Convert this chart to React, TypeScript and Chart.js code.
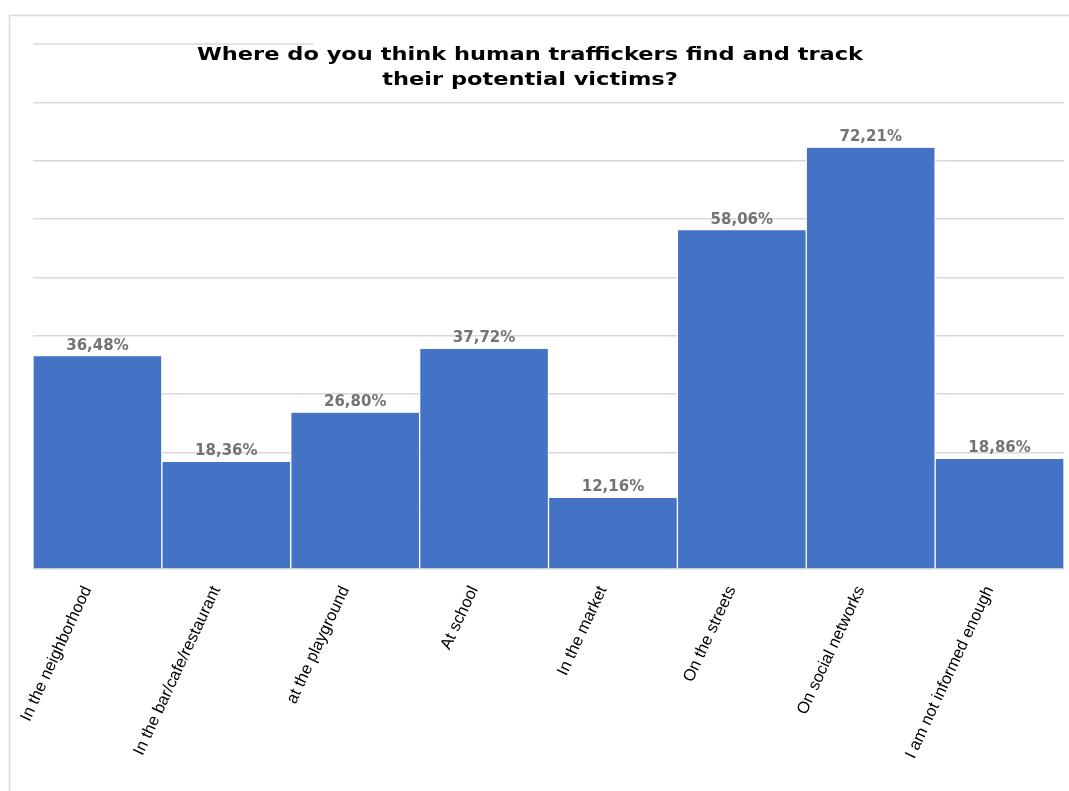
import React, { useEffect, useRef } from "react";
import { Chart, registerables } from "chart.js";

Chart.register(...registerables);

const categories: string[] = [
  "In the neighborhood",
  "In the bar/cafe/restaurant",
  "at the playground",
  "At school",
  "In the market",
  "On the streets",
  "On social networks",
  "I am not informed enough",
];

const percentValues: number[] = [36.48, 18.36, 26.8, 37.72, 12.16, 58.06, 72.21, 18.86];

const titleLines: string[] = [
  "Where do you think human traffickers find and track",
  "their potential victims?",
];

const Y_MAX = 90;
const BAR_COLOR = "#4472C4";
const GRID_COLOR = "#d9d9d9";

export default function App() {
  const canvasRef = useRef<HTMLCanvasElement | null>(null);

  useEffect(() => {
    const canvas = canvasRef.current;
    if (!canvas) return;

    const framePlugin = {
      id: "frame",
      beforeDraw(chart: any) {
        const ctx = chart.ctx;
        ctx.save();
        ctx.fillStyle = "#ffffff";
        ctx.fillRect(0, 0, chart.width, chart.height);
        ctx.strokeStyle = GRID_COLOR;
        ctx.lineWidth = 1.5;
        ctx.beginPath();
        ctx.moveTo(9.5, chart.height);
        ctx.lineTo(9.5, 15.5);
        ctx.lineTo(chart.width, 15.5);
        ctx.stroke();
        ctx.restore();
      },
    };

    const titlePlugin = {
      id: "innerTitle",
      afterDraw(chart: any) {
        const ctx = chart.ctx;
        const yTop = chart.scales.y.getPixelForValue(Y_MAX);
        ctx.save();
        ctx.strokeStyle = GRID_COLOR;
        ctx.lineWidth = 1.5;
        ctx.beginPath();
        ctx.moveTo(chart.chartArea.left, yTop);
        ctx.lineTo(313, yTop);
        ctx.stroke();
        ctx.restore();
        ctx.save();
        ctx.fillStyle = "#000000";
        ctx.font = "bold 18px 'DejaVu Sans'";
        ctx.textAlign = "center";
        ctx.textBaseline = "middle";
        ctx.translate(530, 0);
        ctx.scale(1.25, 1);
        ctx.fillText(titleLines[0], 0, 55);
        ctx.fillText(titleLines[1], 0, 80);
        ctx.restore();
      },
    };

    const labelPlugin = {
      id: "valueLabels",
      afterDatasetsDraw(chart: any) {
        const ctx = chart.ctx;
        const meta = chart.getDatasetMeta(0);
        ctx.save();
        ctx.fillStyle = "#737373";
        ctx.font = "bold 15px 'DejaVu Sans'";
        ctx.textAlign = "center";
        ctx.textBaseline = "bottom";
        meta.data.forEach((bar: any, i: number) => {
          const v = percentValues[i];
          const txt = v.toFixed(2).replace(".", ",") + "%";
          ctx.fillText(txt, bar.x, bar.y - 3);
        });
        ctx.restore();
      },
    };

    const chart = new Chart(canvas, {
      type: "bar",
      data: {
        labels: categories,
        datasets: [
          {
            data: percentValues,
            backgroundColor: BAR_COLOR,
            borderColor: "#ffffff",
            borderWidth: { top: 0, bottom: 0, left: 1, right: 1 } as any,
            borderSkipped: false,
            barPercentage: 1,
            categoryPercentage: 1,
          },
        ],
      },
      options: {
        responsive: false,
        animation: false,
        layout: { padding: { left: 33, right: 5, top: 44, bottom: 0 } },
        plugins: {
          legend: { display: false },
          title: { display: false },
          tooltip: { enabled: false },
        },
        scales: {
          x: {
            grid: { display: false },
            border: { display: false },
            ticks: {
              color: "#000000",
              font: { family: "'Liberation Sans'", size: 16.5 },
              minRotation: 65,
              maxRotation: 65,
              autoSkip: false,
              padding: 6,
              labelOffset: -10,
            },
            afterFit(scale: any) {
              scale.height = 222;
            },
          },
          y: {
            min: 0,
            max: Y_MAX,
            ticks: { display: false, stepSize: 10 },
            grid: {
              color: (c: any) => (c.tick && c.tick.value === Y_MAX ? "rgba(0,0,0,0)" : GRID_COLOR),
              lineWidth: 1.5,
              drawTicks: false,
            },
            border: { display: false },
            afterFit(scale: any) {
              scale.width = 0;
            },
          },
        },
      },
      plugins: [framePlugin, labelPlugin, titlePlugin],
    });

    return () => chart.destroy();
  }, []);

  return (
    <div style={{ position: "absolute", left: 0, top: 0, width: 1069, height: 791, background: "#fff" }}>
      <canvas ref={canvasRef} width={1069} height={791} style={{ display: "block" }} />
    </div>
  );
}
